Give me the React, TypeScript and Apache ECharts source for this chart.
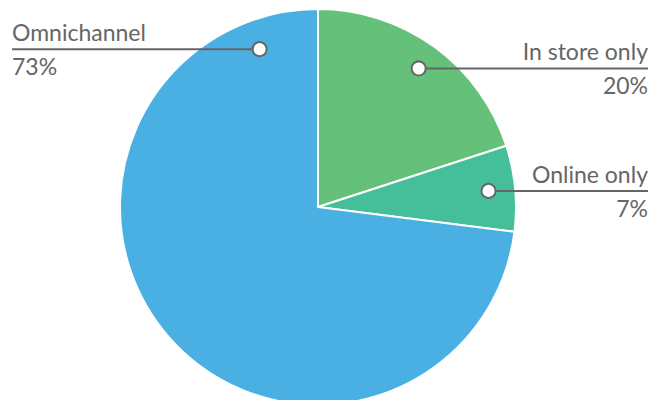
import React, { useEffect, useRef } from "react";
import * as echarts from "echarts";

const categories = ["In store only", "Online only", "Omnichannel"];
const values = [20, 7, 73];
const labels = ["20%", "7%", "73%"];
const colors = ["#65C07A", "#45BF9A", "#4AB0E3"];
// side of each label, and optional anchor angle override (degrees, math convention)
const labelSides = ["right", "right", "left"];
const anchorAngles: (number | null)[] = [null, null, 110.3];
const anchorRadii = [0.865, 0.865, 0.85];

export default function App() {
  const ref = useRef<HTMLDivElement>(null);
  useEffect(() => {
    document.body.style.margin = "0";
    const el = ref.current!;
    const chart = echarts.init(el, null, { renderer: "svg" });
    const cx = 318, cy = 207, R = 198;
    const total = values.reduce((a, b) => a + b, 0);
    const font = "Lato, 'Open Sans', sans-serif";
    const textColor = "#666666";
    const lineColor = "#666666";
    const graphics: any[] = [];
    let start = 90;
    values.forEach((v, i) => {
      const span = (v / total) * 360;
      const mid = start - span / 2;
      start -= span;
      const ang = ((anchorAngles[i] ?? mid) * Math.PI) / 180;
      const ax = cx + anchorRadii[i] * R * Math.cos(ang);
      const ay = cy - anchorRadii[i] * R * Math.sin(ang);
      const right = labelSides[i] === "right";
      const endX = right ? 648 : 12;
      graphics.push({
        type: "line",
        shape: { x1: ax, y1: ay, x2: endX, y2: ay },
        style: { stroke: lineColor, lineWidth: 2 },
        z: 10,
      });
      graphics.push({
        type: "circle",
        shape: { cx: ax, cy: ay, r: 7 },
        style: { fill: "#ffffff", stroke: lineColor, lineWidth: 2 },
        z: 11,
      });
      graphics.push({
        type: "text",
        x: endX,
        y: ay - 17,
        style: {
          text: categories[i],
          fill: textColor,
          font: `400 23px ${font}`,
          textAlign: right ? "right" : "left",
          textVerticalAlign: "middle",
        },
        z: 12,
      });
      graphics.push({
        type: "text",
        x: endX,
        y: ay + 17,
        style: {
          text: labels[i],
          fill: textColor,
          font: `400 23px ${font}`,
          textAlign: right ? "right" : "left",
          textVerticalAlign: "middle",
        },
        z: 12,
      });
    });

    chart.setOption({
      animation: false,
      backgroundColor: "#ffffff",
      series: [
        {
          type: "pie",
          center: [cx, cy],
          radius: [0, R],
          startAngle: 90,
          clockwise: true,
          label: { show: false },
          labelLine: { show: false },
          emphasis: { disabled: true },
          itemStyle: { borderColor: "#ffffff", borderWidth: 2 },
          data: categories.map((c, i) => ({
            name: c,
            value: values[i],
            itemStyle: { color: colors[i] },
          })),
        },
      ],
      graphic: graphics,
    });
    return () => chart.dispose();
  }, []);
  return <div ref={ref} style={{ width: 661, height: 400 }} />;
}
